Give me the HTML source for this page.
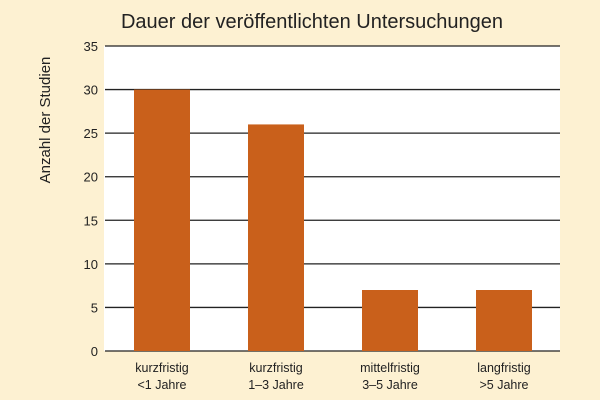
<!DOCTYPE html>
<html><head><meta charset="utf-8"><style>
body{margin:0;background:#fdf1d2;}
svg{display:block;font-family:"Liberation Sans",sans-serif;}
</style></head><body>
<svg width="600" height="400">
<rect width="600" height="400" fill="#fdf1d2"/>
<text x="312" y="28" font-size="20" text-anchor="middle" fill="#222">Dauer der veröffentlichten Untersuchungen</text>
<rect x="104" y="46" width="456" height="305" fill="#fff"/>
<text transform="translate(50,120) rotate(-90)" font-size="15" text-anchor="middle" fill="#222">Anzahl der Studien</text>
<g id="grid"></g><g id="bars"></g><g id="labels"></g>
</svg>
<script>
const categories=[["kurzfristig","<1 Jahre"],["kurzfristig","1–3 Jahre"],["mittelfristig","3–5 Jahre"],["langfristig",">5 Jahre"]];
const values=[30,26,7,7];
const ticks=[0,5,10,15,20,25,30,35];
const ns="http://www.w3.org/2000/svg";
const y0=351,yTop=46,yMax=35,x0=104,x1=560;
const y=v=>y0-(v/yMax)*(y0-yTop);
const step=(x1-x0)/categories.length, bw=56;
const cx=i=>x0+step*(i+0.5)+1;
const g=document.getElementById('grid');
ticks.forEach(t=>{
 const l=document.createElementNS(ns,'line');
 l.setAttribute('x1',x0+1);l.setAttribute('x2',x1);l.setAttribute('y1',y(t));l.setAttribute('y2',y(t));
 l.setAttribute('stroke','#222');l.setAttribute('stroke-width','1.3');
 
 
 g.appendChild(l);
 const tx=document.createElementNS(ns,'text');
 tx.setAttribute('x',98);tx.setAttribute('y',y(t)+5);tx.setAttribute('text-anchor','end');tx.setAttribute('font-size','13');tx.setAttribute('fill','#222');
 tx.textContent=t;
 
 
 g.appendChild(tx);
});
const b=document.getElementById('bars'),lb=document.getElementById('labels');
values.forEach((v,i)=>{
 const r=document.createElementNS(ns,'rect');
 r.setAttribute('x',cx(i)-bw/2);r.setAttribute('y',y(v));r.setAttribute('width',bw);r.setAttribute('height',y0-y(v));r.setAttribute('fill','#c9601b');
 
 
 b.appendChild(r);
 categories[i].forEach((s,j)=>{
  const t=document.createElementNS(ns,'text');
  t.setAttribute('x',cx(i));t.setAttribute('y',372+j*17);t.setAttribute('text-anchor','middle');t.setAttribute('font-size','12.5');t.setAttribute('fill','#222');
  t.textContent=s;
  
  
  lb.appendChild(t);
 });
});
</script>
</body></html>
